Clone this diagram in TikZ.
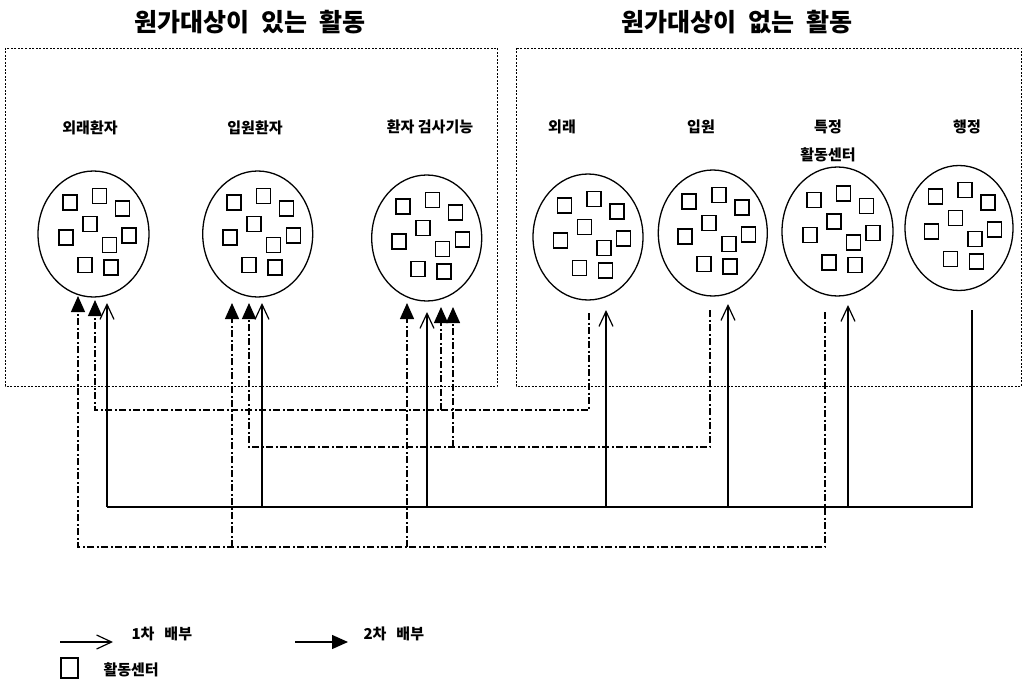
\documentclass[tikz,border=0pt]{standalone}
\usepackage{fontspec}
\newfontfamily\kr{Noto Sans CJK KR}
\usetikzlibrary{arrows.meta,shapes.geometric}
\begin{document}
\begin{tikzpicture}[x=1pt,y=-1pt,
  every node/.style={font=\kr},
  boxline/.style={line width=0.8pt, dash pattern=on 2pt off 1.5pt},
  circ/.style={draw, ellipse, line width=1.3pt, inner sep=0pt},
  sq/.style={draw, line width=1.4pt},
  first/.style={line width=1.4pt},
  second/.style={line width=1.3pt, dash pattern=on 7pt off 2.5pt on 2pt off 2.5pt},
  firstarrow/.style={first, -{Straight Barb[length=15pt,width=14pt,line width=1.2pt]}},
  secondarrow/.style={second, -{Triangle[length=16pt,width=14pt]}},
  title/.style={font=\kr\bfseries\fontsize{25}{28}\selectfont},
  lbl/.style={font=\kr\bfseries\fontsize{15}{17}\selectfont},
  leg/.style={font=\kr\bfseries\fontsize{15}{17}\selectfont, anchor=west}
]
\useasboundingbox (0,0) rectangle (1024,687);

% titles
\node[title] (t1) at (250,22) {원가대상이\hspace{12pt}있는\hspace{12pt}활동};
\node[title] (t2) at (737,22) {원가대상이\hspace{12pt}없는\hspace{12pt}활동};

% activity boxes
\draw[boxline] (5,48) rectangle (497,386);
\draw[boxline] (516,48) rectangle (1021,386);

% labels
\node[lbl] (l1) at (90,128) {외래환자};
\node[lbl] (l2) at (255,128) {입원환자};
\node[lbl] (l3) at (430,127) {환자 검사기능};
\node[lbl] (l4) at (562,127) {외래};
\node[lbl] (l5) at (701,127) {입원};
\node[lbl] (l6) at (828,127) {특정};
\node[lbl] (l6b) at (828,155) {활동센터};
\node[lbl] (l7) at (967,127) {행정};

% circles
\node[circ, minimum width=111pt, minimum height=126pt] (c1) at (93.5,234) {};
\node[circ, minimum width=110pt, minimum height=126pt] (c2) at (257.7,234) {};
\node[circ, minimum width=110pt, minimum height=126pt] (c3) at (426.7,238) {};
\node[circ, minimum width=110pt, minimum height=126pt] (c4) at (588,237) {};
\node[circ, minimum width=109pt, minimum height=126pt] (c5) at (712.8,233) {};
\node[circ, minimum width=111pt, minimum height=129pt] (c6) at (837.5,231.5) {};
\node[circ, minimum width=108pt, minimum height=125pt] (c7) at (959,228) {};

% activity centres inside circles
\foreach \n in {c1,c2,c3,c4,c5,c6,c7}{
  \foreach \dx/\dy in {-23.7/-31.5, 6/-38, 29/-25.7, -3.7/-10, -27.7/3.5, 35.6/1.3, 16/11, -8.7/31, 17.3/33.5}{
    \draw[sq] (\n.center) ++(\dx-7,\dy-7.5) rectangle ++(14,15);
  }
}

% first allocation (solid) from administration
\coordinate (adm) at (972,310);
\coordinate (busL) at (107,507);
\draw[first] (adm) |- (busL);
\foreach \x/\t in {107/303, 262/303, 427/312, 606/310, 728/304, 848/305}{
  \draw[firstarrow] (\x,507) -- (\x,\t);
}

% second allocation (dash-dot)
\coordinate (s4) at (589,313);
\coordinate (s5) at (710,310);
\coordinate (s6) at (825,312);
\draw[secondarrow] (s4) |- (95,410) -- (95,300);
\draw[secondarrow] (441,410) -- (441,307);
\draw[secondarrow] (s5) |- (249,447) -- (249,303);
\draw[secondarrow] (453,447) -- (453,307);
\draw[secondarrow] (s6) |- (78,547) -- (78,296);
\draw[secondarrow] (232,547) -- (232,303);
\draw[secondarrow] (407,547) -- (407,303);

% legend
\coordinate (la1) at (60,642);
\coordinate (la2) at (113,642);
\draw[firstarrow] (la1) -- (la2);
\node[leg] (lt1) at (128,634) {1차\hspace{10pt}배부};
\coordinate (lb1) at (295,642);
\coordinate (lb2) at (348,642);
\draw[first, -{Triangle[length=16pt,width=14pt]}] (lb1) -- (lb2);
\node[leg] (lt2) at (360,634) {2차\hspace{10pt}배부};
\draw[sq] (61,658) rectangle (78,678);
\node[leg] (lt3) at (100,670) {활동센터};
\end{tikzpicture}
\end{document}
